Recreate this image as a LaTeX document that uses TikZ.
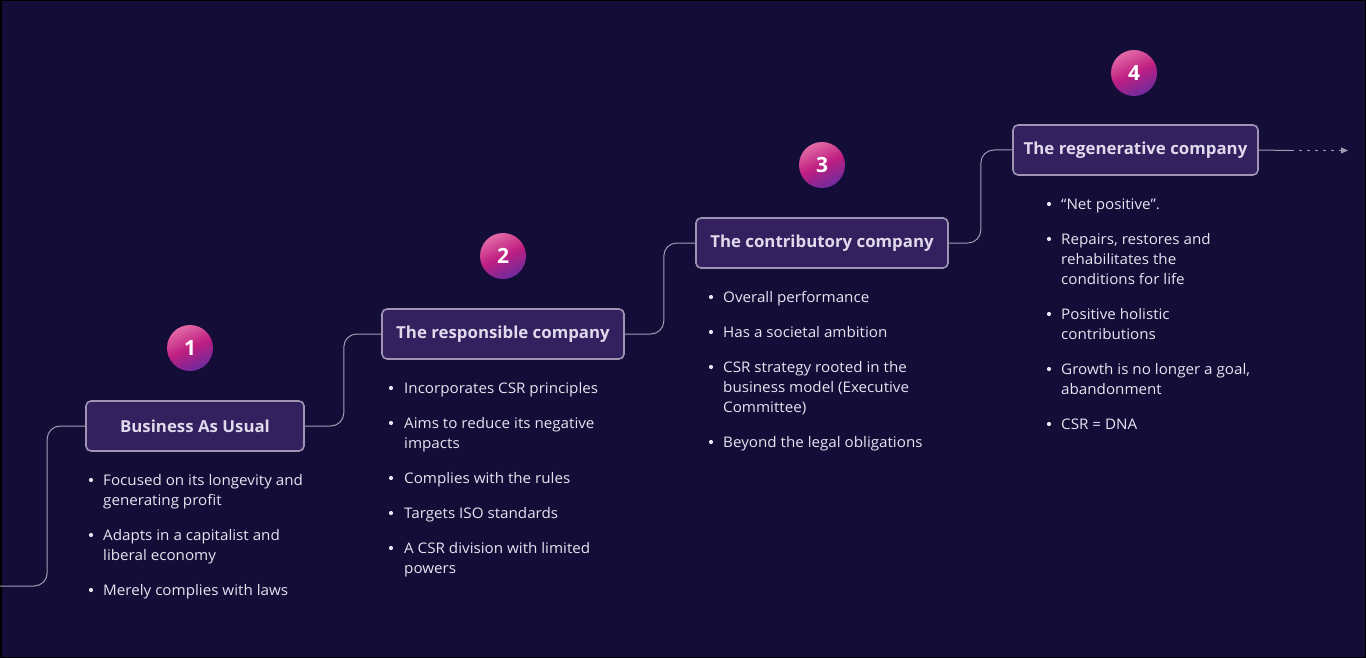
\documentclass[tikz,border=0pt]{standalone}
\usepackage{fontspec}
\setmainfont{Open Sans}
\usetikzlibrary{arrows.meta}
\definecolor{bgc}{HTML}{130D38}
\definecolor{boxfill}{HTML}{33205F}
\definecolor{boxline}{HTML}{9E95B3}
\definecolor{txt}{HTML}{E8E4F0}
\definecolor{ttl}{HTML}{E0DAEC}
\definecolor{pinktop}{HTML}{E36AA6}
\definecolor{pinkmid}{HTML}{BE1E80}
\definecolor{purplebot}{HTML}{6E2B9E}
\definecolor{connc}{HTML}{A49CB6}
\tikzset{
  stagebox/.style={draw=boxline, line width=1.6pt, fill=boxfill, rounded corners=5pt,
    minimum height=50pt, inner sep=0pt, text=ttl,
    font=\fontsize{16.5}{20}\selectfont\bfseries\addfontfeature{FakeStretch=1.02}},
  numcirc/.style={circle, minimum size=46pt, inner sep=0pt, text=white,
    font=\fontsize{21}{22}\selectfont\bfseries,
    top color=pinktop, bottom color=purplebot, middle color=pinkmid, shading angle=25},
  lne/.style={anchor=base west, inner sep=0pt, text=txt,
    font=\fontsize{14.6}{20}\selectfont\addfontfeature{FakeStretch=1.04}},
  conn/.style={draw=connc, line width=1pt, rounded corners=13pt},
  bul/.style={fill=txt}
}
\begin{document}
\begin{tikzpicture}[x=1pt,y=-1pt]
\fill[bgc] (0,0) rectangle (1366,658);
\draw[black, line width=1.5pt] (0.75,0.75) rectangle (1365.25,657.25);
\useasboundingbox (0,0) rectangle (1366,658);

% stage boxes
\node[stagebox, minimum width=218pt] (b1) at (195,426) {Business As Usual};
\node[stagebox, minimum width=242pt] (b2) at (503,334) {The responsible company};
\node[stagebox, minimum width=252pt] (b3) at (822,243) {The contributory company};
\node[stagebox, minimum width=245pt] (b4) at (1135.5,150) {The regenerative company};

% number circles
\node[numcirc] (n1) at (190,348) {1};
\node[numcirc] (n2) at (503,256) {2};
\node[numcirc] (n3) at (822,165) {3};
\node[numcirc] (n4) at (1134,73) {4};

% connectors
\coordinate (s0) at (0,586);
\draw[conn] (s0) -| ([xshift=-38pt]b1.west) -- (b1.west);
\draw[conn] (b1.east) -- ([xshift=39pt]b1.east) |- (b2.west);
\draw[conn] (b2.east) -- ([xshift=39pt]b2.east) |- (b3.west);
\draw[conn] (b3.east) -- ([xshift=32pt]b3.east) |- (b4.west);
\coordinate (am) at (1291,150.5);
\coordinate (ae) at (1348,150.5);
\draw[draw=connc, line width=1pt] (b4.east) -- (am);
\draw[draw=connc, line width=1pt, dash pattern=on 3pt off 5pt, -{Triangle[length=7pt,width=6pt]}] (am) -- (ae);

% column 1
\node[lne] (c1a1) at (103,485) {Focused on its longevity and};
\node[lne] (c1a2) at (103,505) {generating profit};
\node[lne] (c1b1) at (103,540) {Adapts in a capitalist and};
\node[lne] (c1b2) at (103,560) {liberal economy};
\node[lne] (c1c1) at (103,595) {Merely complies with laws};
\foreach \yy in {480,535,590} \fill[bul] (91,\yy) circle (2.1pt);

% column 2
\node[lne] (c2a1) at (404,393) {Incorporates CSR principles};
\node[lne] (c2b1) at (404,428) {Aims to reduce its negative};
\node[lne] (c2b2) at (404,448) {impacts};
\node[lne] (c2c1) at (404,483) {Complies with the rules};
\node[lne] (c2d1) at (404,518) {Targets ISO standards};
\node[lne] (c2e1) at (404,553) {A CSR division with limited};
\node[lne] (c2e2) at (404,573) {powers};
\foreach \yy in {388,423,478,513,548} \fill[bul] (391,\yy) circle (2.1pt);

% column 3
\node[lne] (c3a1) at (723,302) {Overall performance};
\node[lne] (c3b1) at (723,337) {Has a societal ambition};
\node[lne] (c3c1) at (723,372) {CSR strategy rooted in the};
\node[lne] (c3c2) at (723,392) {business model (Executive};
\node[lne] (c3c3) at (723,412) {Committee)};
\node[lne] (c3d1) at (723,447) {Beyond the legal obligations};
\foreach \yy in {297,332,367,442} \fill[bul] (711,\yy) circle (2.1pt);

% column 4
\node[lne] (c4a1) at (1061,209) {“Net positive”.};
\node[lne] (c4b1) at (1061,244) {Repairs, restores and};
\node[lne] (c4b2) at (1061,264) {rehabilitates the};
\node[lne] (c4b3) at (1061,284) {conditions for life};
\node[lne] (c4c1) at (1061,319) {Positive holistic};
\node[lne] (c4c2) at (1061,339) {contributions};
\node[lne] (c4d1) at (1061,374) {Growth is no longer a goal,};
\node[lne] (c4d2) at (1061,394) {abandonment};
\node[lne] (c4e1) at (1061,429) {CSR = DNA};
\foreach \yy in {204,239,314,369,424} \fill[bul] (1049,\yy) circle (2.1pt);
\end{tikzpicture}
\end{document}
